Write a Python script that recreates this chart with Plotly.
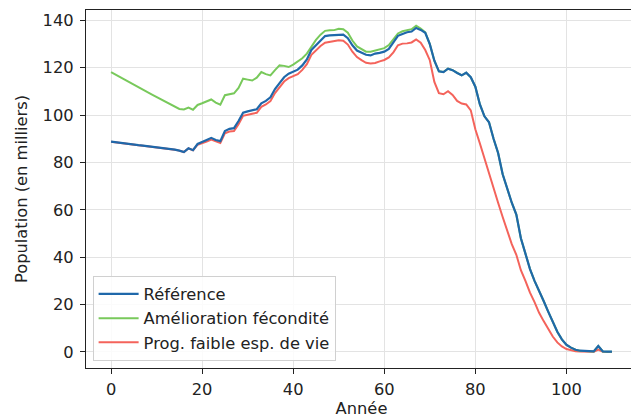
import plotly.graph_objects as go

annees = list(range(0, 111))

reference = [
    88.8, 88.5, 88.3, 88.0, 87.8, 87.5, 87.3, 87.1, 86.9, 86.7,
    86.4, 86.2, 86.0, 85.7, 85.4, 85.0, 84.4, 86.0, 85.2, 87.8,
    88.5, 89.5, 90.4, 89.5, 89.0, 93.3, 94.2, 94.5, 97.5, 101.0,
    101.6, 102.0, 102.5, 105.0, 106.0, 107.5, 111.0, 113.5, 116.0, 117.5,
    118.5, 119.2, 121.0, 123.5, 127.5, 129.5, 131.5, 133.4, 133.7, 133.8,
    134.1, 134.0, 132.5, 129.5, 127.3, 126.3, 125.5, 125.2, 126.0, 126.3,
    126.8, 128.0, 130.5, 133.5, 134.3, 135.0, 135.3, 136.8, 136.0, 134.8,
    130.0, 123.0, 118.5, 118.2, 119.6, 119.0, 117.8, 116.8, 117.9, 116.0,
    112.0, 104.5, 99.5, 97.0, 90.0, 84.0, 75.0, 68.5, 63.0, 58.0,
    48.0, 41.5, 35.0, 30.0, 26.0, 21.5, 17.0, 12.5, 8.5, 5.3,
    3.0, 1.8, 0.9, 0.5, 0.3, 0.2, 0.2, 2.5, 0.2, 0.1,
    0.1,
]

amelioration_fecondite = [
    118.2, 117.1, 116.0, 114.9, 113.8, 112.7, 111.7, 110.7, 109.7, 108.7,
    107.7, 106.7, 105.7, 104.7, 103.7, 102.6, 102.4, 103.2, 102.3, 104.3,
    105.0, 105.8, 106.6, 105.3, 104.4, 108.4, 108.8, 109.2, 111.5, 115.4,
    115.0, 114.6, 115.8, 118.2, 117.3, 116.8, 119.0, 121.0, 120.8, 120.3,
    121.3, 122.5, 124.0, 126.0, 129.0, 131.8, 134.0, 135.6, 135.8, 135.9,
    136.5, 136.3, 134.8, 131.5, 129.0, 127.8, 126.8, 126.8, 127.4, 127.7,
    128.3, 129.6, 132.0, 134.5, 135.4, 136.0, 136.3, 137.8, 136.6, 135.0,
    130.0, 123.0, 118.5, 118.2, 119.6, 119.0, 117.8, 116.8, 117.9, 116.0,
    112.0, 104.5, 99.5, 97.0, 90.0, 84.0, 75.0, 68.5, 63.0, 58.0,
    48.0, 41.5, 35.0, 30.0, 26.0, 21.5, 17.0, 12.5, 8.5, 5.3,
    3.0, 1.8, 0.9, 0.5, 0.3, 0.2, 0.2, 2.5, 0.2, 0.1,
    0.1,
]

faible_esp_vie = [
    88.8, 88.5, 88.3, 88.0, 87.8, 87.5, 87.3, 87.1, 86.9, 86.7,
    86.4, 86.2, 86.0, 85.7, 85.4, 85.0, 84.4, 86.0, 85.2, 87.5,
    88.0, 88.8, 89.7, 88.8, 88.2, 92.3, 93.1, 93.3, 96.2, 99.7,
    100.3, 100.6, 101.0, 103.5, 104.5, 105.9, 109.3, 111.8, 114.2, 115.6,
    116.6, 117.3, 119.1, 121.5, 125.5, 127.5, 129.2, 130.6, 130.9, 131.1,
    131.6, 131.4, 129.8, 126.8, 124.5, 123.2, 122.1, 121.8, 122.0, 122.7,
    123.3, 124.4, 126.5, 129.5, 130.2, 130.3, 130.7, 132.0, 130.6, 127.5,
    123.2, 114.0, 109.3, 108.8, 110.1, 108.5, 106.0, 104.9, 104.5, 102.0,
    94.0, 88.0, 81.5, 75.5, 69.0, 63.0, 57.0, 51.0, 45.5, 41.0,
    34.5, 30.0, 25.0, 21.0, 16.5, 13.0, 9.5, 6.5, 4.0, 2.3,
    1.2, 0.6, 0.3, 0.2, 0.1, 0.1, 0.1, 1.0, 0.1, 0.0,
    0.0,
]

noms = ["Référence", "Amélioration fécondité", "Prog. faible esp. de vie"]
couleurs = ["#1f68aa", "#78c95b", "#f4635b"]
x_ticks = [0, 20, 40, 60, 80, 100]
y_ticks = [0, 20, 40, 60, 80, 100, 120, 140]

fig = go.Figure()
series = [reference, amelioration_fecondite, faible_esp_vie]
# draw red, green, then blue on top; legend ordered by rank
for idx in [2, 1, 0]:
    fig.add_trace(go.Scatter(
        x=annees, y=series[idx], mode="lines", name=noms[idx],
        line=dict(color=couleurs[idx], width=2.2 if idx == 0 else 2),
        legendrank=idx + 1, legendgroup=str(idx),
    ))

font = "DejaVu Sans"
fs = 16.3
axis_common = dict(
    showline=True, linecolor="#222", linewidth=1.2, mirror=True,
    ticks="outside", ticklen=5, tickcolor="#222",
    showgrid=True, gridcolor="#e3e3e3", gridwidth=1,
    zeroline=False, tickfont=dict(family=font, size=fs, color="#222"),
    automargin=False,
)

# page body has an 8px default margin: figure is sized to fit the window
fig.update_layout(
    width=631, height=411,
    margin=dict(l=78, r=2, t=2, b=51),
    paper_bgcolor="white", plot_bgcolor="white",
    font=dict(family=font, size=fs, color="#222"),
    xaxis=dict(range=[-5.5, 115.5], tickvals=x_ticks, ticklabelstandoff=1,
               title=dict(text="Année", font=dict(family=font, size=fs), standoff=4),
               **axis_common),
    yaxis=dict(range=[-6.8, 144.4], tickvals=y_ticks, ticklabelstandoff=3,
               title=dict(text="Population (en milliers)", font=dict(family=font, size=fs), standoff=10),
               **axis_common),
    legend=dict(x=0.012, y=0.02, xanchor="left", yanchor="bottom",
                bgcolor="rgba(255,255,255,0.85)", bordercolor="#d0d0d0", borderwidth=1,
                font=dict(family=font, size=fs, color="#222"),
                itemwidth=40,
                traceorder="grouped", tracegroupgap=0),
    showlegend=True,
)

fig.write_html("out.html")
